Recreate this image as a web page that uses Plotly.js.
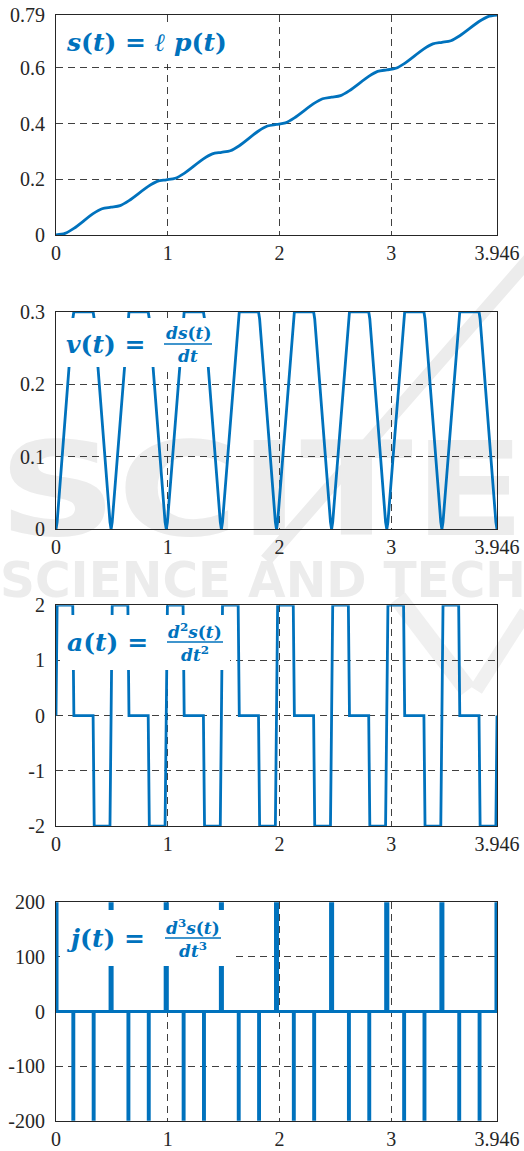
<!DOCTYPE html>
<html>
<head>
<meta charset="utf-8">
<script src="https://cdn.plot.ly/plotly-3.0.1.min.js"></script>
<style>
  html, body { margin: 0; padding: 0; background: #ffffff; }
  #wrap { position: relative; width: 524px; height: 1151px; overflow: hidden; }
  #wm { position: absolute; left: 0; top: 0; z-index: 0; }
  #chart { position: absolute; left: 0; top: 0; z-index: 1; width: 524px; height: 1151px; }
</style>
</head>
<body>
<div id="wrap">
  <svg id="wm" width="524" height="1151">
    <text x="-2" y="535" font-family="DejaVu Sans" font-weight="bold" font-size="130" fill="#ececec" textLength="528" lengthAdjust="spacingAndGlyphs">SCITE</text>
    <text x="0" y="597" font-family="DejaVu Sans" font-weight="bold" font-size="50" fill="#ececec" textLength="526" lengthAdjust="spacingAndGlyphs">SCIENCE AND TECH</text>
    <line x1="532" y1="256" x2="266" y2="560" stroke="#ececec" stroke-width="13"/>
    <line x1="398" y1="598" x2="468" y2="690" stroke="#f0f0f0" stroke-width="18"/>
    <line x1="526" y1="612" x2="476" y2="690" stroke="#f0f0f0" stroke-width="14"/>
  </svg>
  <div id="chart"></div>
</div>
<script>
// ---- data ----
// segment start times (s) of the eight repeated motion segments
const tSeg = [0, 0.493, 0.987, 1.480, 1.973, 2.466, 2.960, 3.453];
// phase times inside one segment (s)
const phaseT = [0, 0.01, 0.15, 0.16, 0.332, 0.342, 0.483, 0.493];
// velocity values at the phase times
const vPhase = [0, 0.01, 0.29, 0.3, 0.3, 0.29, 0.01, 0];
// acceleration values at the phase times
const aPhase = [0, 2, 2, 0, 0, -2, -2, 0];
// jerk levels held from each phase time
const jPhase = [200, 0, -200, 0, -200, 0, 200, 0];

// position s(t)
const sTime = [0, 0.08, 0.16, 0.332, 0.412,
  0.493, 0.573, 0.653, 0.825, 0.905,
  0.987, 1.067, 1.147, 1.319, 1.399,
  1.480, 1.560, 1.640, 1.812, 1.892,
  1.973, 2.053, 2.133, 2.305, 2.385,
  2.466, 2.546, 2.626, 2.798, 2.878,
  2.960, 3.040, 3.120, 3.292, 3.372,
  3.453, 3.533, 3.613, 3.785, 3.865, 3.946];
const sValue = [0, 0.0056, 0.0235, 0.0765, 0.0944,
  0.100, 0.1056, 0.1235, 0.1745, 0.1924,
  0.198, 0.2036, 0.2215, 0.2735, 0.2914,
  0.297, 0.3026, 0.3205, 0.3735, 0.3914,
  0.397, 0.4026, 0.4205, 0.4715, 0.4894,
  0.495, 0.5006, 0.5185, 0.5695, 0.5874,
  0.593, 0.5986, 0.6165, 0.6685, 0.6864,
  0.692, 0.6976, 0.7155, 0.7665, 0.7844, 0.790];

const xTickVals = [0, 1, 2, 3, 3.946];
const xTickText = ["0", "1", "2", "3", "3.946"];
const sTickVals = [0, 0.2, 0.4, 0.6, 0.79];
const sTickText = ["0", "0.2", "0.4", "0.6", "0.79"];
const vTickVals = [0, 0.1, 0.2, 0.3];
const vTickText = ["0", "0.1", "0.2", "0.3"];
const aTickVals = [-2, -1, 0, 1, 2];
const aTickText = ["-2", "-1", "0", "1", "2"];
const jTickVals = [-200, -100, 0, 100, 200];
const jTickText = ["-200", "-100", "0", "100", "200"];

// ---- expand the segment table ----
function expand(values) {
  const xs = [], ys = [];
  tSeg.forEach(t0 => {
    phaseT.forEach((p, i) => { xs.push(t0 + p); ys.push(values[i]); });
  });
  return {xs, ys};
}
const V = expand(vPhase);
const A = expand(aPhase);
const J0 = expand(jPhase);
const J = {xs: [0].concat(J0.xs), ys: [0].concat(J0.ys)};

const BLUE = '#0072BD';
const LW = 2.8;
const traces = [
  {x: sTime, y: sValue, xaxis: 'x', yaxis: 'y', mode: 'lines', line: {color: BLUE, width: LW, shape: 'spline', smoothing: 0.8}, hoverinfo: 'skip'},
  {x: V.xs, y: V.ys, xaxis: 'x2', yaxis: 'y2', mode: 'lines', line: {color: BLUE, width: LW}, hoverinfo: 'skip'},
  {x: A.xs, y: A.ys, xaxis: 'x3', yaxis: 'y3', mode: 'lines', line: {color: BLUE, width: LW}, hoverinfo: 'skip'},
  {x: J.xs, y: J.ys, xaxis: 'x4', yaxis: 'y4', mode: 'lines', line: {color: BLUE, width: LW, shape: 'hv'}, hoverinfo: 'skip'}
];

function tf() { return {family: 'Liberation Serif', size: 20, color: '#262626'}; }
function xAx(anchor) {
  return {
    anchor: anchor, domain: [0, 1], range: [0, 3.946],
    tickmode: 'array', tickvals: xTickVals, ticktext: xTickText,
    showgrid: true, gridcolor: 'rgba(30,30,30,0.85)', griddash: '7px,5px', gridwidth: 1,
    zeroline: false, showline: true, mirror: true, linecolor: '#262626', linewidth: 1,
    ticks: '', ticklabelstandoff: 0, tickfont: tf(), fixedrange: true
  };
}
function yAx(anchor, dom, rng, tv, tt) {
  return {
    anchor: anchor, domain: dom, range: rng,
    tickmode: 'array', tickvals: tv, ticktext: tt,
    showgrid: true, gridcolor: 'rgba(30,30,30,0.85)', griddash: '7px,5px', gridwidth: 1,
    zeroline: false, showline: true, mirror: true, linecolor: '#262626', linewidth: 1,
    ticks: '', ticklabelstandoff: 6, tickfont: tf(), fixedrange: true
  };
}

// pixel helpers for label boxes
const ML = 56, MT = 15, PW = 441, PH = 1106;
const px = v => (v - ML) / PW;
const py = v => 1 - (v - MT) / PH;

function box(x0, x1, y0, y1) {
  return {type: 'rect', xref: 'paper', yref: 'paper', x0: px(x0), x1: px(x1), y0: py(y1), y1: py(y0),
    fillcolor: '#ffffff', line: {width: 0}, layer: 'above'};
}
function bar(x0, x1, y) {
  return {type: 'line', xref: 'paper', yref: 'paper', x0: px(x0), x1: px(x1), y0: py(y), y1: py(y),
    line: {color: BLUE, width: 1.6}, layer: 'above'};
}
function mf() { return {family: 'DejaVu Serif', size: 25, color: BLUE}; }
function ff() { return {family: 'DejaVu Serif', size: 17, color: BLUE}; }
function lab(text, x, y, font, xanchor) {
  return {text: text, xref: 'paper', yref: 'paper', x: px(x), y: py(y), xanchor: xanchor || 'left', yanchor: 'middle',
    showarrow: false, font: font};
}

const shapes = [
  box(60, 236, 24, 64),
  box(60, 214, 318, 367),
  box(60, 230, 615, 670),
  box(60, 233, 910, 966),
  bar(164, 212, 344),
  bar(167, 223, 642),
  bar(165, 221, 938)
];
const annotations = [
  lab('<b><i>s</i>(<i>t</i>) = <i>ℓ p</i>(<i>t</i>)</b>', 64, 42, mf()),
  lab('<b><i>v</i>(<i>t</i>) =</b>', 64, 344, mf()),
  lab('<b><i>ds</i>(<i>t</i>)</b>', 188, 333, ff(), 'center'),
  lab('<b><i>dt</i></b>', 188, 356, ff(), 'center'),
  lab('<b><i>a</i>(<i>t</i>) =</b>', 65, 642, mf()),
  lab('<b><i>d</i><sup>2</sup><i>s</i>(<i>t</i>)</b>', 195, 631, ff(), 'center'),
  lab('<b><i>dt</i><sup>2</sup></b>', 195, 654, ff(), 'center'),
  lab('<b><i>j</i>(<i>t</i>) =</b>', 64, 938, mf()),
  lab('<b><i>d</i><sup>3</sup><i>s</i>(<i>t</i>)</b>', 193, 927, ff(), 'center'),
  lab('<b><i>dt</i><sup>3</sup></b>', 193, 950, ff(), 'center')
];

const layout = {
  width: 524, height: 1151,
  font: {family: 'Liberation Serif', size: 20, color: '#262626'},
  margin: {l: ML, r: 27, t: MT, b: 30},
  paper_bgcolor: 'rgba(0,0,0,0)', plot_bgcolor: 'rgba(0,0,0,0)',
  showlegend: false,
  xaxis: xAx('y'),
  yaxis: yAx('x', [0.8011, 1.0], [0, 0.79], sTickVals, sTickText),
  xaxis2: xAx('y2'),
  yaxis2: yAx('x2', [0.535, 0.7317], [0, 0.3], vTickVals, vTickText),
  xaxis3: xAx('y3'),
  yaxis3: yAx('x3', [0.2667, 0.4664], [-2, 2], aTickVals, aTickText),
  xaxis4: xAx('y4'),
  yaxis4: yAx('x4', [0.0003, 0.1977], [-200, 200], jTickVals, jTickText),
  shapes: shapes,
  annotations: annotations
};

Plotly.newPlot('chart', traces, layout, {displayModeBar: false, staticPlot: true});
</script>
</body>
</html>
